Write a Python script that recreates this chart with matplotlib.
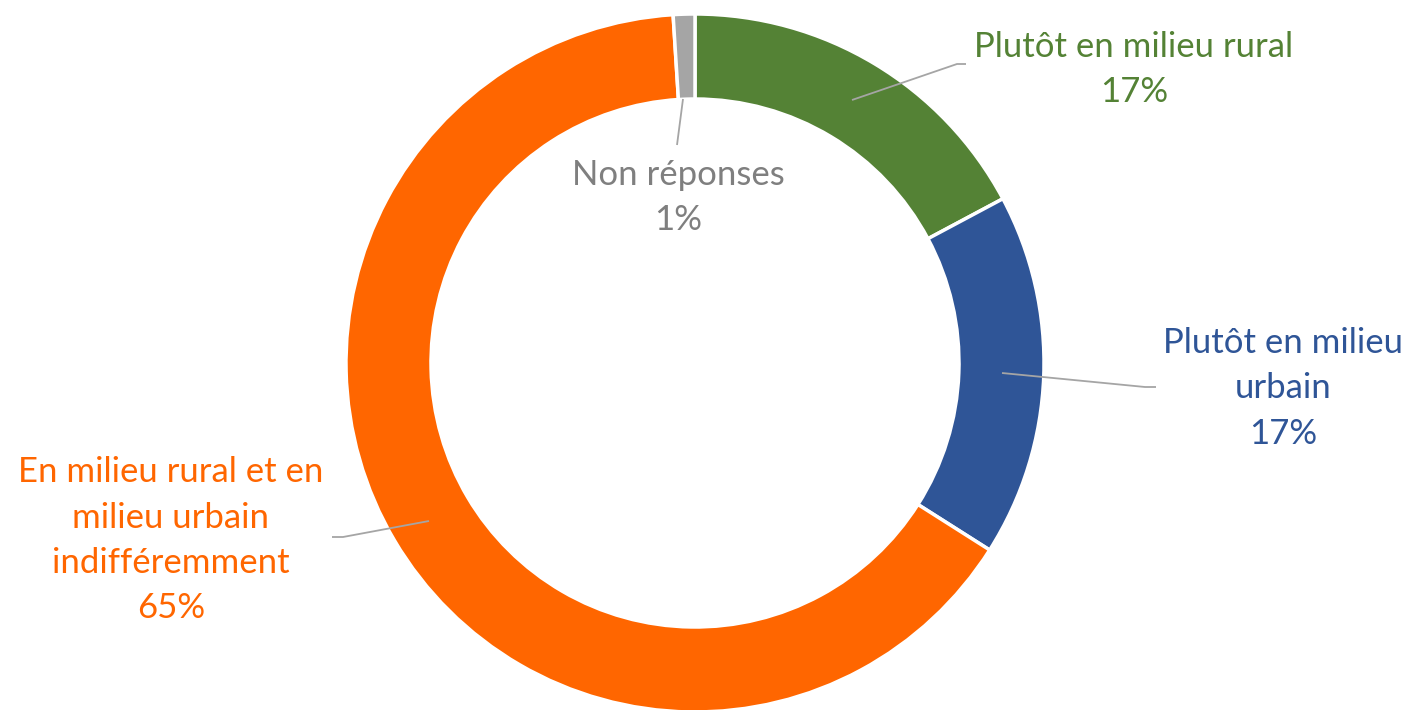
"""Donut chart: lieu de vie souhaité."""

import matplotlib.pyplot as plt

# données (sens horaire depuis midi)
categories = ["Plutôt en milieu rural", "Plutôt en milieu urbain",
              "En milieu rural et en milieu urbain indifféremment", "Non réponses"]
values = [17.2, 16.8, 65.0, 1.0]
pct_labels = ["17%", "17%", "65%", "1%"]
label_lines = [["Plutôt en milieu rural"],
               ["Plutôt en milieu", "urbain"],
               ["En milieu rural et en", "milieu urbain", "indifféremment"],
               ["Non réponses"]]

colors = ["#548235", "#2F5597", "#FF6600", "#A5A5A5"]
text_colors = ["#548235", "#2F5597", "#FF6600", "#7F7F7F"]

W, H = 1409, 710
cx, cy, radius, ring = 695, H - 363, 349, 85

fig = plt.figure(figsize=(W / 100, H / 100), dpi=100)
ax = fig.add_axes([0, 0, 1, 1])

ax.pie(values, colors=colors, startangle=90, counterclock=False,
       center=(cx, cy), radius=radius, frame=True,
       wedgeprops=dict(width=ring, edgecolor="white", linewidth=2.5))
ax.set_xlim(0, W)
ax.set_ylim(0, H)
ax.set_aspect("equal")
ax.axis("off")

# leader lines (pixel coords, y from top)
leaders = [
    [(852, 100), (957, 64), (966, 64)],
    [(1002, 373), (1145, 387), (1156, 387)],
    [(429, 521), (343, 537), (332, 537)],
    [(683, 99), (677, 145)],
]
for pts in leaders:
    xs = [p[0] for p in pts]
    ys = [H - p[1] for p in pts]
    ax.plot(xs, ys, color="#A5A5A5", linewidth=1.3, solid_capstyle="butt")

# label anchors: centre x, first baseline y (from top)
anchors = [(1134, 57), (1283, 353), (171, 482), (678, 185)]
step = 45.5
for (x, y0), lines, pct, col in zip(anchors, label_lines, pct_labels, text_colors):
    for i, line in enumerate(lines + [pct]):
        ax.text(x, H - (y0 + i * step), line, color=col, fontsize=25,
                family="Lato", ha="center", va="baseline")

fig.savefig("out.png", dpi=100)
